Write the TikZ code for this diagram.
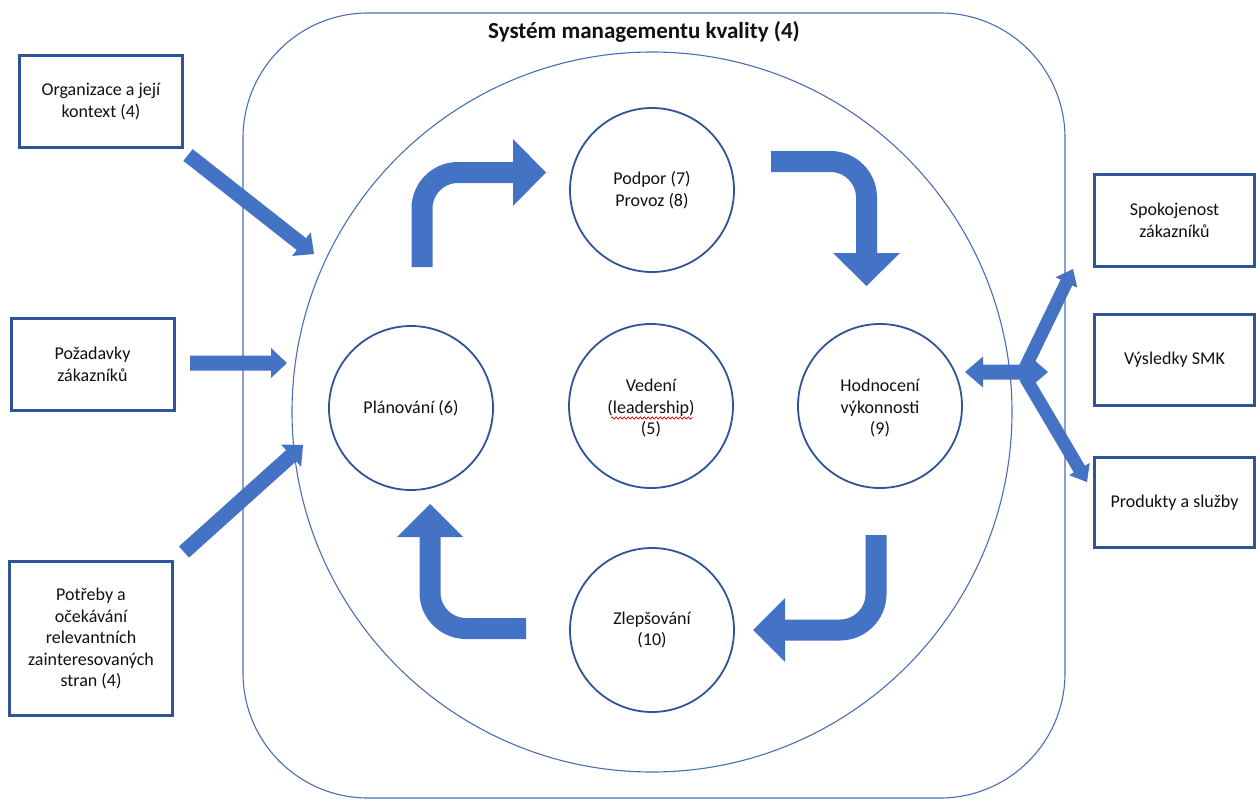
\documentclass[tikz,border=0pt]{standalone}
\usepackage{fontspec}
\setmainfont{Carlito}
\usetikzlibrary{calc,decorations.pathmorphing}
\definecolor{arrowblue}{HTML}{4472C4}
\definecolor{boxblue}{HTML}{2F5597}
\definecolor{lineblue}{HTML}{4A6FB5}
\definecolor{txt}{HTML}{111111}
% block arrow: start, tip, half shaft, half head, head length
\newcommand{\blkarrow}[5]{%
  \coordinate (blkH) at ($(#2)!#5!(#1)$);
  \fill[arrowblue] ($(#1)!#3!90:(#2)$) -- ($(blkH)!#3!90:(#2)$) -- ($(blkH)!#4!90:(#2)$) -- (#2)
    -- ($(blkH)!#4!-90:(#2)$) -- ($(blkH)!#3!-90:(#2)$) -- ($(#1)!#3!-90:(#2)$) -- cycle;
}
\begin{document}
\begin{tikzpicture}[x=1pt,y=-1pt,
  txtfont/.style={font=\fontsize{18}{21.5}\selectfont, text=txt, align=center},
  infobox/.style={txtfont, draw=boxblue, line width=3pt, minimum width=163pt, inner sep=0pt},
  phase/.style={txtfont, circle, draw=boxblue, line width=1.8pt, minimum size=164pt, inner sep=0pt},
  bent/.style={draw=arrowblue, line width=21pt, rounded corners=36pt},
  frame/.style={draw=lineblue, line width=1.1pt}
]
\useasboundingbox (0,0) rectangle (1258,800);
\fill[white] (0,0) rectangle (1258,800);

% ---- arrows (drawn below the frame lines)
% left inputs
\coordinate (la1s) at (188,155); \coordinate (la1t) at (314,254);
\coordinate (la2s) at (190,363); \coordinate (la2t) at (287,363);
\coordinate (la3s) at (184,552); \coordinate (la3t) at (303,445);
\blkarrow{la1s}{la1t}{7.5pt}{15pt}{16pt}
\blkarrow{la2s}{la2t}{7.5pt}{15pt}{16pt}
\blkarrow{la3s}{la3t}{7.5pt}{15pt}{16pt}

% right outputs
\coordinate (rmid) at (1006,372);
\coordinate (rl) at (965,372); \coordinate (rr) at (1048,372);
\coordinate (rus) at (1025,368); \coordinate (rut) at (1073,269);
\coordinate (rds) at (1025,377); \coordinate (rdt) at (1087,482);
\blkarrow{rmid}{rl}{7.5pt}{15.5pt}{18pt}
\blkarrow{rmid}{rr}{7.5pt}{15.5pt}{18pt}
\blkarrow{rus}{rut}{6.5pt}{12pt}{15pt}
\blkarrow{rds}{rdt}{6.5pt}{12pt}{15pt}

% bent cycle arrows
\coordinate (a1s) at (422,267); \coordinate (a1e) at (514,172.5);
\draw[bent] (a1s) |- (a1e);
\fill[arrowblue] (513,139) -- (546,172.5) -- (513,206) -- cycle;

\coordinate (a2s) at (771,161.5); \coordinate (a2e) at (866.5,254);
\draw[bent] (a2s) -| (a2e);
\fill[arrowblue] (833,253) -- (866.5,286) -- (900,253) -- cycle;

\coordinate (a3s) at (526,628.5); \coordinate (a3e) at (430,536);
\draw[bent] (a3s) -| (a3e);
\fill[arrowblue] (397,537) -- (430,504) -- (463,537) -- cycle;

\coordinate (a4s) at (876,535); \coordinate (a4e) at (784,630);
\draw[bent] (a4s) |- (a4e);
\fill[arrowblue] (785,598) -- (753,630) -- (785,662) -- cycle;

% ---- frame: rounded rectangle and big circle
\draw[frame, rounded corners=125pt] (243,13) rectangle (1065,798);
\draw[frame] (652,412) circle[radius=360];
\node[font=\fontsize{23}{27}\selectfont\bfseries, text=txt] (title) at (644,32) {Systém managementu kvality (4)};

% ---- phase circles
\node[phase] (podpora) at (652,190) {Podpor (7)\\Provoz (8)};
\node[phase] (plan) at (411,408) {Plánování (6)};
\node[phase] (vedeni) at (651,406) {};
\node[txtfont] (vedenitxt) at (651,408) {Vedení\\(leadership)\\(5)};
\node[phase] (hodn) at (880,406) {};
\node[txtfont] (hodntxt) at (880,408) {Hodnocení\\výkonnosti\\(9)};
\node[phase] (zlep) at (652,630) {Zlepšování\\(10)};
\draw[red!85!black, line width=0.7pt, decorate, decoration={snake, amplitude=1.1pt, segment length=4pt}]
  (611,418) -- (693,418);

% ---- input boxes
\node[infobox, minimum height=92pt] (org) at (101,101.5) {Organizace a její\\kontext (4)};
\node[infobox, minimum height=92pt] (poz) at (92.5,364.5) {Požadavky\\zákazníků};
\node[infobox, minimum height=154pt] (potr) at (91,638.5) {Potřeby a\\očekávání\\relevantních\\zainteresovaných\\stran (4)};

% ---- output boxes
\node[infobox, minimum width=160pt, minimum height=92pt] (spok) at (1174.5,220.5) {Spokojenost\\zákazníků};
\node[infobox, minimum width=160pt, minimum height=91pt] (vys) at (1174.5,360) {Výsledky SMK};
\node[infobox, minimum width=160pt, minimum height=90pt] (prod) at (1174.5,502.5) {Produkty a služby};
\end{tikzpicture}
\end{document}
